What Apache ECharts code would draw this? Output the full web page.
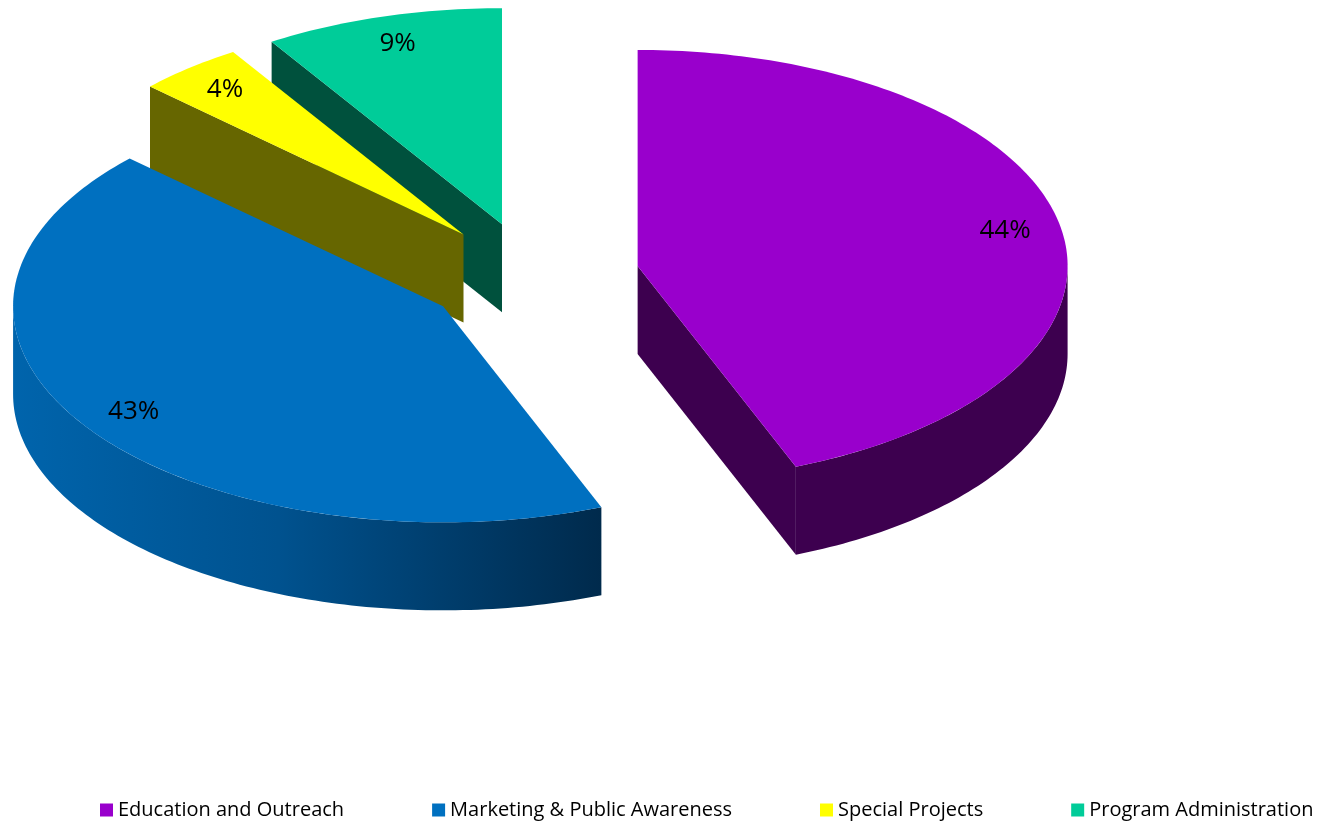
<!DOCTYPE html>
<html>
<head>
    <meta charset="utf-8">
    <title>Budget Share 3D Pie</title>
    <script src="https://cdn.jsdelivr.net/npm/echarts@6/dist/echarts.min.js"></script>
    <style>
        html, body { margin: 0; padding: 0; background: #fff; }
        #pie-chart { width: 1317px; height: 822px; }
    </style>
</head>
<body>
<div id="pie-chart"></div>
<script>
    // data
    var categories = ['Education and Outreach', 'Marketing & Public Awareness', 'Special Projects', 'Program Administration'];
    var shares = [44, 43, 4, 9];

    // colours: top face / side face
    var topColors = ['#9900CC', '#0070C0', '#FFFF00', '#00CC99'];
    var sideColors = [
        '#3D004F',
        new echarts.graphic.LinearGradient(0, 0, 1, 0, [
            { offset: 0, color: '#0064AC' },
            { offset: 0.45, color: '#00528F' },
            { offset: 1, color: '#002A4C' }
        ]),
        '#666600',
        '#00513D'
    ];

    // pie geometry (ellipse in screen space)
    var PIE = { cx: 532, cy: 276, rx: 430, ry: 216, depth: 88, explode: 0.25, labelR: 0.87 };

    var total = shares.reduce(function (s, v) { return s + v; }, 0);
    var bounds = [];
    var acc = 0;
    shares.forEach(function (v) {
        bounds.push([acc / total, (acc + v) / total, v]);
        acc += v;
    });

    function rim(ox, oy, t, r) {
        r = r || 1;
        return [ox + r * PIE.rx * Math.sin(t), oy - r * PIE.ry * Math.cos(t)];
    }

    function arcPoints(ox, oy, t0, t1, dy) {
        var pts = [];
        var n = Math.max(2, Math.ceil((t1 - t0) / (Math.PI / 180)));
        for (var k = 0; k <= n; k++) {
            var p = rim(ox, oy, t0 + (t1 - t0) * k / n);
            pts.push([p[0], p[1] + (dy || 0)]);
        }
        return pts;
    }

    function renderSlice(i) {
        return function (params, api) {
            var a0 = api.value(0) * 2 * Math.PI;
            var a1 = api.value(1) * 2 * Math.PI;
            var mid = (a0 + a1) / 2;
            var o = rim(PIE.cx, PIE.cy, mid, PIE.explode);
            var ox = o[0], oy = o[1];
            var side = sideColors[i];
            var children = [];

            // flat cut faces that turn towards the viewer
            [[a0, -1], [a1, 1]].forEach(function (e) {
                var normal = e[0] + e[1] * Math.PI / 2;
                if (Math.cos(normal) < -0.001) {
                    var p = rim(ox, oy, e[0]);
                    children.push({
                        type: 'polygon',
                        shape: { points: [[ox, oy], p, [p[0], p[1] + PIE.depth], [ox, oy + PIE.depth]] },
                        style: { fill: side }
                    });
                }
            });

            // curved outer wall, front half only
            var w0 = Math.max(a0, Math.PI / 2), w1 = Math.min(a1, Math.PI * 1.5);
            if (w1 > w0) {
                var upper = arcPoints(ox, oy, w0, w1, 0);
                var lower = arcPoints(ox, oy, w0, w1, PIE.depth).reverse();
                children.push({
                    type: 'polygon',
                    shape: { points: upper.concat(lower) },
                    style: { fill: side }
                });
            }

            // top face
            children.push({
                type: 'polygon',
                shape: { points: [[ox, oy]].concat(arcPoints(ox, oy, a0, a1, 0)) },
                style: { fill: topColors[i] }
            });

            // percentage label
            var lp = rim(ox, oy, mid, PIE.labelR);
            children.push({
                type: 'text',
                x: lp[0],
                y: lp[1],
                style: {
                    text: Math.round(api.value(2) / total * 100) + '%',
                    fill: '#000',
                    font: '26px "Open Sans"',
                    align: 'center',
                    verticalAlign: 'middle'
                }
            });

            return { type: 'group', children: children };
        };
    }

    // back slices first
    var order = bounds.map(function (b, i) {
        return { i: i, y: rim(PIE.cx, PIE.cy, (b[0] + b[1]) * Math.PI, PIE.explode)[1] };
    }).sort(function (a, b) { return a.y - b.y; });
    var zOf = [];
    order.forEach(function (o, rank) { zOf[o.i] = 2 + rank; });

    var series = categories.map(function (name, i) {
        return {
            type: 'custom',
            name: name,
            coordinateSystem: 'none',
            z: zOf[i],
            itemStyle: { color: topColors[i] },
            renderItem: renderSlice(i),
            data: [bounds[i]]
        };
    });

    var pieChart = echarts.init(document.getElementById('pie-chart'));
    pieChart.setOption({
        animation: false,
        legend: {
            data: categories,
            left: 100,
            top: 800,
            width: 1216,
            padding: 0,
            icon: 'rect',
            itemWidth: 13,
            itemHeight: 13,
            itemGap: 88,
            textStyle: { fontFamily: 'Open Sans', fontSize: 20, color: '#000' }
        },
        series: series
    });
</script>
</body>
</html>
